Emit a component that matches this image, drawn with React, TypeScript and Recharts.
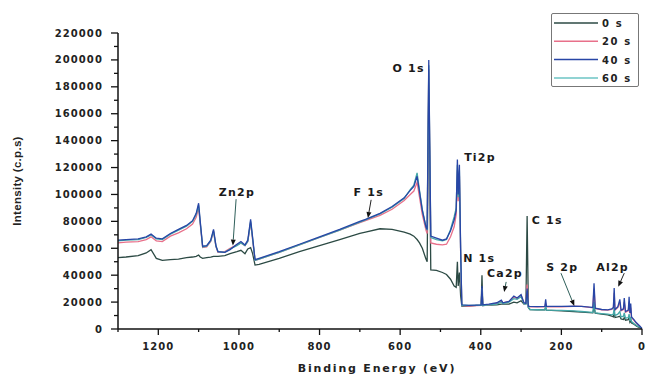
import React from 'react';
import { LineChart, Line, XAxis, YAxis, ReferenceLine, ReferenceDot, Legend, Label } from 'recharts';

// Binding energy grid (eV)
const energy = [
  1300, 1280, 1250, 1230, 1218, 1205, 1190, 1170, 1150, 1130,
  1115, 1106, 1100, 1096, 1090, 1080, 1070, 1063, 1057, 1052,
  1035, 1022, 1005, 995, 985, 978, 971, 966, 960, 950,
  900, 850, 800, 750, 700, 686, 650, 620, 590, 575,
  566, 558, 552, 545, 536, 533, 529, 524, 510, 495,
  485, 475, 466, 461, 458, 456, 453, 450, 447, 430,
  410, 399, 397, 395, 380, 360, 349, 345, 330, 318,
  310, 300, 293, 288, 285, 282, 278, 260, 241, 239,
  237, 200, 170, 150, 130, 122, 119, 116, 100, 85,
  75, 71, 69, 67, 60, 55, 52, 46, 44, 41,
  34, 32, 30, 28, 26, 20, 15, 10, 5, 0,
];

const s0 = [
  53000, 53500, 54500, 56500, 59000, 52500, 51000, 51500, 52000, 53000,
  53500, 54000, 55000, 53500, 52500, 53000, 53500, 54000, 54000, 54000,
  54500, 56000, 57500, 58500, 56000, 59500, 60500, 56000, 47500, 48000,
  52500, 57500, 62000, 66500, 71000, 72000, 74500, 74000, 72000, 70500,
  69000, 66500, 64000, 60000, 52000, 50000, 178000, 44000, 43500, 42000,
  40500, 37000, 32000, 31000, 50000, 32000, 42000, 25000, 17000, 17000,
  17500, 17500, 40000, 17500, 17800, 18000, 18500, 18500, 18500, 20000,
  19500, 21000, 18500, 19000, 84000, 16000, 14500, 14300, 14200, 16000,
  14100, 13500, 13000, 12600, 12200, 12000, 16000, 11800, 11000, 10500,
  9500, 9000, 12000, 8500, 9000, 9500, 7500, 7000, 8500, 6500,
  7000, 8500, 5000, 6000, 4500, 3500, 2500, 1500, 1000, 200,
];

const s20 = [
  64000, 64500, 65000, 66500, 68500, 65500, 65000, 69000, 71500, 74500,
  78000, 83000, 90000, 78000, 60500, 61000, 65000, 72500, 61000, 57000,
  57500, 60000, 62500, 64000, 62000, 65000, 79000, 66000, 51000, 52000,
  57000, 62500, 68000, 73500, 79000, 80500, 84500, 89000, 95500, 100000,
  102500, 109000, 98000, 85000, 73500, 71000, 193000, 64000, 63000, 62500,
  63000, 68500, 76000, 85000, 118000, 95000, 114000, 58000, 17500, 17000,
  17300, 17500, 30000, 17500, 18000, 19000, 21000, 19500, 20500, 24000,
  22500, 25000, 19500, 19000, 33000, 17000, 16500, 16500, 16500, 19000,
  16500, 16500, 16800, 16800, 16000, 15800, 30000, 15300, 14300, 14000,
  14500, 15500, 27000, 14000, 16000, 20000, 13500, 14500, 20000, 12500,
  13500, 20000, 11500, 16000, 8500, 6500, 4500, 3000, 1800, 300,
];

const s40 = [
  66000, 66500, 67000, 68500, 70500, 67500, 67000, 71000, 74000, 77000,
  80500, 86000, 93500, 80000, 61500, 62000, 66000, 74000, 62000, 57500,
  57000, 59000, 63000, 65000, 62500, 66000, 81500, 68000, 51500, 52500,
  57500, 63000, 68500, 74000, 80000, 81500, 86000, 91000, 97500, 103000,
  106000, 113500, 102000, 88000, 76000, 74000, 200000, 69000, 67500, 66000,
  67000, 73000, 81000, 88000, 126000, 100000, 122000, 60000, 18000, 17500,
  17800, 18000, 32000, 18000, 18500, 19500, 21500, 19500, 20500, 24500,
  23000, 25500, 19500, 19000, 30000, 17000, 16800, 16700, 16800, 22000,
  16800, 16800, 16900, 16800, 16300, 16000, 34000, 15500, 14500, 14200,
  15000, 16000, 30500, 14500, 16500, 22000, 14000, 15000, 23000, 13000,
  14000, 24000, 12000, 19000, 9000, 7000, 5000, 3500, 2000, 300,
];

const s60 = [
  65500, 66000, 66500, 68000, 70000, 67000, 66500, 70500, 73500, 76500,
  80000, 85000, 92000, 79000, 61000, 61500, 65500, 73000, 61500, 57500,
  57000, 59500, 62000, 64000, 62000, 65000, 80000, 67000, 51000, 52000,
  57000, 62500, 68000, 73500, 79500, 81000, 85500, 90500, 97000, 103500,
  107000, 116000, 103000, 89000, 75500, 73500, 196000, 68000, 66500, 65500,
  66500, 74000, 83500, 90000, 122000, 98000, 118000, 59000, 17500, 17500,
  17500, 17500, 30000, 17500, 18000, 18500, 20000, 19000, 20000, 22500,
  22000, 24000, 19000, 18500, 28000, 16000, 14500, 14300, 14200, 17000,
  14100, 13800, 13400, 13000, 12500, 12300, 20000, 12000, 11500, 11000,
  10500, 11000, 16000, 10000, 11000, 13000, 9000, 9500, 12000, 8000,
  8500, 11000, 6000, 9000, 5500, 4000, 3000, 2000, 1500, 300,
];

const seriesKeys = ['s0', 's20', 's60', 's40'];
const seriesNames = ['0 s', '20 s', '60 s', '40 s'];
const seriesColors = ['#2c4a44', '#e8708a', '#45a8a8', '#2846a6'];

const legendOrder = ['0 s', '20 s', '40 s', '60 s'];
const legendColors = ['#2c4a44', '#e8708a', '#2846a6', '#6cc4c4'];

const xTicks = [0, 100, 200, 300, 400, 500, 600, 700, 800, 900, 1000, 1100, 1200, 1300];
const yTicks = [
  0, 10000, 20000, 30000, 40000, 50000, 60000, 70000, 80000, 90000, 100000, 110000,
  120000, 130000, 140000, 150000, 160000, 170000, 180000, 190000, 200000, 210000, 220000,
];

const annotationLabels = ['O 1s', 'Ti2p', 'F 1s', 'Zn2p', 'N 1s', 'Ca2p', 'C 1s', 'S 2p', 'Al2p'];
const annotationEnergy = [579, 402, 678, 1005, 404, 340, 235, 198, 73];
const annotationIntensity = [191000, 124900, 98800, 98800, 49800, 38600, 78000, 43100, 43100];

const arrowFromEnergy = [1007, 672, 337, 201, 44];
const arrowFromIntensity = [96500, 96000, 35000, 41500, 41500];
const arrowToEnergy = [1015, 680, 342, 168, 59];
const arrowToIntensity = [62000, 82500, 27500, 17100, 31400];
const arrowColors = ['#2f5f5a', '#222', '#2f5f5a', '#2f5f5a', '#222'];

const data = energy.map((e, i) => ({ e, s0: s0[i], s20: s20[i], s40: s40[i], s60: s60[i] }));

const FONT = '"DejaVu Sans", Verdana, sans-serif';
const tickFont: React.CSSProperties = { fontFamily: FONT, fontSize: 10, fontWeight: 700, letterSpacing: 1.1, fill: '#222' };

const XTick = (props: any) => {
  const { x, y, payload } = props;
  const major = payload.value % 200 === 0;
  return (
    <g>
      <line x1={x} y1={y} x2={x} y2={y + (major ? 6 : 3)} stroke="#111" strokeWidth={1.3} />
      {major && (
        <text x={x} y={y + 21} textAnchor="middle" style={tickFont}>
          {payload.value}
        </text>
      )}
    </g>
  );
};

const YTick = (props: any) => {
  const { x, y, payload } = props;
  const major = payload.value % 20000 === 0;
  return (
    <g>
      <line x1={x - (major ? 7 : 4)} y1={y} x2={x} y2={y} stroke="#111" strokeWidth={1.3} />
      {major && (
        <text x={x - 15} y={y + 3.5} textAnchor="end" style={tickFont}>
          {payload.value}
        </text>
      )}
    </g>
  );
};

const ArrowShape = (color: string) => (props: any) => {
  const { x1, y1, x2, y2 } = props;
  const dx = x2 - x1;
  const dy = y2 - y1;
  const len = Math.sqrt(dx * dx + dy * dy) || 1;
  const ux = dx / len;
  const uy = dy / len;
  const hl = 6;
  const hw = 2.5;
  const bx = x2 - ux * hl;
  const by = y2 - uy * hl;
  const pts = `${x2},${y2} ${bx - uy * hw},${by + ux * hw} ${bx + uy * hw},${by - ux * hw}`;
  return (
    <g>
      <line x1={x1} y1={y1} x2={bx} y2={by} stroke={color} strokeWidth={1} />
      <polygon points={pts} fill="#111" />
    </g>
  );
};

const LegendBox = () => (
  <div
    style={{
      width: 88,
      height: 74,
      boxSizing: 'border-box',
      border: '1px solid #777',
      borderRadius: 2,
      background: '#fff',
    }}
  >
    <svg width={86} height={72} style={{ display: 'block' }}>
      {legendOrder.map((name, i) => {
        const cy = 9 + i * 18.3;
        return (
          <g key={name}>
            <line x1={2} y1={cy} x2={46} y2={cy} stroke={legendColors[i]} strokeWidth={1.5} />
            <text x={50} y={cy + 4} style={{ ...tickFont, letterSpacing: 1.6 }}>
              {name}
            </text>
          </g>
        );
      })}
    </svg>
  </div>
);

export default function App() {
  return (
    <div style={{ position: 'absolute', left: 0, top: 0, width: 646, height: 375, background: '#fff' }}>
      <LineChart width={646} height={375} data={data} margin={{ top: 33, right: 4, bottom: 16, left: 0 }}>
        <XAxis
          dataKey="e"
          type="number"
          domain={[0, 1300]}
          reversed
          ticks={xTicks}
          interval={0}
          tick={<XTick />}
          tickLine={false}
          tickSize={0}
          tickMargin={0}
          height={30}
          axisLine={{ stroke: '#111', strokeWidth: 1.5 }}
        >
          <Label
            content={(p: any) => {
              const vb = p.viewBox;
              return (
                <text
                  x={vb.x + vb.width / 2 - 3}
                  y={vb.y + 43}
                  textAnchor="middle"
                  style={{ fontFamily: FONT, fontSize: 11, fontWeight: 700, letterSpacing: 1.8, fill: '#222' }}
                >
                  Binding Energy (eV)
                </text>
              );
            }}
          />
        </XAxis>
        <YAxis
          type="number"
          domain={[0, 220000]}
          ticks={yTicks}
          interval={0}
          tick={<YTick />}
          tickLine={false}
          tickSize={0}
          tickMargin={0}
          width={118}
          axisLine={{ stroke: '#111', strokeWidth: 1.5 }}
        >
          <Label
            content={(p: any) => {
              const vb = p.viewBox;
              const cx = vb.x + 21;
              const cy = vb.y + vb.height / 2;
              return (
                <text
                  x={cx}
                  y={cy}
                  textAnchor="middle"
                  transform={`rotate(-90 ${cx} ${cy})`}
                  style={{ fontFamily: '"Liberation Sans", Arial, sans-serif', fontSize: 11.5, fontWeight: 700, letterSpacing: 0.3, fill: '#222' }}
                >
                  Intensity (c.p.s)
                </text>
              );
            }}
          />
        </YAxis>
        <Legend
          layout="vertical"
          align="center"
          verticalAlign="middle"
          content={() => <LegendBox />}
          wrapperStyle={{ position: 'absolute', left: 551, top: 13, width: 88, height: 74 }}
        />
        {seriesKeys.map((k, i) => (
          <Line
            key={k}
            dataKey={k}
            name={seriesNames[i]}
            type="linear"
            stroke={seriesColors[i]}
            strokeWidth={1.3}
            dot={false}
            activeDot={false}
            isAnimationActive={false}
          />
        ))}
        {arrowFromEnergy.map((e, i) => (
          <ReferenceLine
            key={'arrow' + i}
            ifOverflow="visible"
            segment={[
              { x: e, y: arrowFromIntensity[i] },
              { x: arrowToEnergy[i], y: arrowToIntensity[i] },
            ]}
            shape={ArrowShape(arrowColors[i])}
          />
        ))}
        {annotationLabels.map((lab, i) => (
          <ReferenceDot
            key={'lab' + i}
            x={annotationEnergy[i]}
            y={annotationIntensity[i]}
            r={0}
            ifOverflow="visible"
            shape={(p: any) => (
              <text
                x={p.cx}
                y={p.cy}
                textAnchor="middle"
                style={{ fontFamily: FONT, fontSize: 11, fontWeight: 700, letterSpacing: 1.2, fill: '#1a1a1a' }}
              >
                {lab}
              </text>
            )}
          />
        ))}
      </LineChart>
    </div>
  );
}
